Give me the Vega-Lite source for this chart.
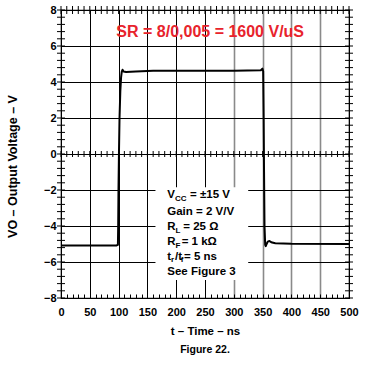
{
  "$schema": "https://vega.github.io/schema/vega-lite/v6.json",
  "width": 288,
  "height": 288,
  "autosize": "none",
  "padding": {"left": 61, "top": 10, "right": 23, "bottom": 69},
  "background": "white",
  "title": {"text": "Figure 22.", "orient": "bottom", "fontSize": 10.5, "fontWeight": "bold", "font": "Liberation Sans", "color": "black", "offset": 8},
  "config": {
    "font": "Liberation Sans",
    "view": {"stroke": "black", "strokeWidth": 1.2},
    "axis": {"labelFont": "Liberation Sans", "titleFont": "Liberation Sans", "labelColor": "black", "titleColor": "black", "domain": false}
  },
  "datasets": {
    "wave": [
      {"t": 0, "v": -5.08}, {"t": 96, "v": -5.08}, {"t": 98.8, "v": -5.05}, {"t": 99.3, "v": -4.0},
      {"t": 99.8, "v": -2.0}, {"t": 100.6, "v": 0}, {"t": 101.6, "v": 2.0}, {"t": 103, "v": 3.5},
      {"t": 104.3, "v": 4.25}, {"t": 105.5, "v": 4.58}, {"t": 106.8, "v": 4.68}, {"t": 108.5, "v": 4.58},
      {"t": 113, "v": 4.55}, {"t": 130, "v": 4.58}, {"t": 160, "v": 4.62}, {"t": 220, "v": 4.63},
      {"t": 300, "v": 4.63}, {"t": 347, "v": 4.65}, {"t": 349.7, "v": 4.74}, {"t": 351, "v": 4.6},
      {"t": 351.8, "v": 2.0}, {"t": 352.5, "v": -1.0}, {"t": 353.3, "v": -4.0}, {"t": 354.5, "v": -5.05},
      {"t": 355.5, "v": -5.12}, {"t": 357, "v": -5.0}, {"t": 359, "v": -4.87}, {"t": 362, "v": -4.83},
      {"t": 365, "v": -4.9}, {"t": 372, "v": -4.96}, {"t": 400, "v": -4.99}, {"t": 500, "v": -5.0}
    ],
    "xticks": [
      {"t": 0}, {"t": 10}, {"t": 20}, {"t": 30}, {"t": 40}, {"t": 50}, {"t": 60}, {"t": 70}, {"t": 80}, {"t": 90},
      {"t": 100}, {"t": 110}, {"t": 120}, {"t": 130}, {"t": 140}, {"t": 150}, {"t": 160}, {"t": 170}, {"t": 180}, {"t": 190},
      {"t": 200}, {"t": 210}, {"t": 220}, {"t": 230}, {"t": 240}, {"t": 250}, {"t": 260}, {"t": 270}, {"t": 280}, {"t": 290},
      {"t": 300}, {"t": 310}, {"t": 320}, {"t": 330}, {"t": 340}, {"t": 350}, {"t": 360}, {"t": 370}, {"t": 380}, {"t": 390},
      {"t": 400}, {"t": 410}, {"t": 420}, {"t": 430}, {"t": 440}, {"t": 450}, {"t": 460}, {"t": 470}, {"t": 480}, {"t": 490}, {"t": 500}
    ],
    "yticks": [
      {"v": -8}, {"v": -7.6}, {"v": -7.2}, {"v": -6.8}, {"v": -6.4}, {"v": -6}, {"v": -5.6}, {"v": -5.2}, {"v": -4.8}, {"v": -4.4},
      {"v": -4}, {"v": -3.6}, {"v": -3.2}, {"v": -2.8}, {"v": -2.4}, {"v": -2}, {"v": -1.6}, {"v": -1.2}, {"v": -0.8}, {"v": -0.4},
      {"v": 0}, {"v": 0.4}, {"v": 0.8}, {"v": 1.2}, {"v": 1.6}, {"v": 2}, {"v": 2.4}, {"v": 2.8}, {"v": 3.2}, {"v": 3.6},
      {"v": 4}, {"v": 4.4}, {"v": 4.8}, {"v": 5.2}, {"v": 5.6}, {"v": 6}, {"v": 6.4}, {"v": 6.8}, {"v": 7.2}, {"v": 7.6}, {"v": 8}
    ],
    "box": [{"x1": 164, "x2": 325, "y1": -7.0, "y2": -1.85}],
    "labels": [
      {"x": 184.5, "y": -2.28, "text": "V"},
      {"x": 224, "y": -2.28, "text": "= ±15 V"},
      {"x": 184.5, "y": -3.22, "text": "Gain = 2 V/V"},
      {"x": 184.5, "y": -4.06, "text": "R"},
      {"x": 212.3, "y": -4.06, "text": "= 25 Ω"},
      {"x": 184.5, "y": -4.89, "text": "R"},
      {"x": 209.5, "y": -4.89, "text": "= 1 kΩ"},
      {"x": 184.5, "y": -5.72, "text": "t"},
      {"x": 197.9, "y": -5.72, "text": "/t"},
      {"x": 213.5, "y": -5.72, "text": "= 5 ns"},
      {"x": 184.5, "y": -6.56, "text": "See Figure 3"}
    ],
    "subs": [
      {"x": 197.9, "y": -2.28, "text": "CC"},
      {"x": 199, "y": -4.06, "text": "L"},
      {"x": 199, "y": -4.89, "text": "F"},
      {"x": 191.1, "y": -5.72, "text": "r"},
      {"x": 207.8, "y": -5.72, "text": "f"}
    ],
    "note": [{"x": 259, "y": 6.78, "text": "SR = 8/0,005 = 1600 V/uS"}]
  },
  "resolve": {"axis": {"x": "independent", "y": "independent"}},
  "layer": [
    {
      "data": {"name": "box"},
      "mark": {"type": "rect", "fill": "white", "stroke": null},
      "encoding": {
        "x": {"field": "x1", "type": "quantitative", "scale": {"domain": [0, 500], "nice": false, "zero": false},
          "axis": {"orient": "bottom", "values": [0,10,20,30,40,50,60,70,80,90,100,110,120,130,140,150,160,170,180,190,200,210,220,230,240,250,260,270,280,290,300,310,320,330,340,350,360,370,380,390,400,410,420,430,440,450,460,470,480,490,500],
            "grid": false, "labels": false, "ticks": true, "tickSize": -4, "tickColor": "black", "tickWidth": 1, "title": null}},
        "x2": {"field": "x2"},
        "y": {"field": "y1", "type": "quantitative", "scale": {"domain": [-8, 8], "nice": false, "zero": false}, "axis": null},
        "y2": {"field": "y2"}
      }
    },
    {
      "data": {"name": "wave"},
      "mark": {"type": "line", "color": "black", "strokeWidth": 2, "strokeJoin": "round"},
      "encoding": {
        "x": {"field": "t", "type": "quantitative",
          "axis": {"orient": "bottom", "values": [0,50,100,150,200,250,300,350,400,450,500],
            "grid": true, "gridColor": {"condition": {"test": "datum.value >= 300 && datum.value < 500", "value": "#8a8a8a"}, "value": "black"},
            "gridWidth": {"condition": {"test": "datum.value >= 300 && datum.value < 500", "value": 1.6}, "value": 1},
            "gridOpacity": 1,
            "ticks": false, "labelFontSize": 11, "labelFontWeight": "bold", "labelPadding": 8, "labelFlush": false,
            "title": "t – Time – ns", "titleFontSize": 11.5, "titleFontWeight": "bold", "titlePadding": 8}},
        "y": {"field": "v", "type": "quantitative",
          "axis": {"orient": "left", "values": [-8,-6,-4,-2,0,2,4,6,8],
            "grid": true, "gridColor": "black", "gridWidth": 1, "gridOpacity": 1,
            "ticks": false, "labelFontSize": 11, "labelFontWeight": "bold", "labelPadding": 5,
            "title": "VO – Output Voltage – V", "titleFontSize": 12.5, "titleFontWeight": "bold", "titlePadding": 24, "titleY": 156}}
      }
    },
    {
      "data": {"name": "labels"},
      "mark": {"type": "text", "align": "left", "baseline": "middle", "fontSize": 11.5, "fontWeight": "bold", "font": "Liberation Sans", "color": "black"},
      "encoding": {
        "x": {"field": "x", "type": "quantitative", "axis": null},
        "y": {"field": "y", "type": "quantitative", "axis": null},
        "text": {"field": "text"}
      }
    },
    {
      "data": {"name": "subs"},
      "mark": {"type": "text", "align": "left", "baseline": "middle", "fontSize": 8, "dy": 3.5, "fontWeight": "bold", "font": "Liberation Sans", "color": "black"},
      "encoding": {
        "x": {"field": "x", "type": "quantitative", "axis": null},
        "y": {"field": "y", "type": "quantitative", "axis": null},
        "text": {"field": "text"}
      }
    },
    {
      "data": {"name": "note"},
      "mark": {"type": "text", "align": "center", "baseline": "middle", "fontSize": 16, "fontWeight": "bold", "font": "Liberation Sans", "color": "#e8232c"},
      "encoding": {
        "x": {"field": "x", "type": "quantitative", "axis": null},
        "y": {"field": "y", "type": "quantitative", "axis": null},
        "text": {"field": "text"}
      }
    },
    {
      "data": {"name": "xticks"},
      "mark": {"type": "tick", "orient": "vertical", "size": 8, "thickness": 1, "color": "black", "opacity": 1},
      "encoding": {"x": {"field": "t", "type": "quantitative", "axis": null}, "y": {"datum": 8, "type": "quantitative", "axis": null}}
    },
    {
      "data": {"name": "xticks"},
      "mark": {"type": "tick", "orient": "vertical", "size": 6, "thickness": 1, "color": "black", "opacity": 1},
      "encoding": {"x": {"field": "t", "type": "quantitative", "axis": null}, "y": {"datum": 0, "type": "quantitative", "axis": null}}
    },
    {
      "data": {"name": "yticks"},
      "mark": {"type": "tick", "orient": "horizontal", "size": 8, "thickness": 1, "color": "black", "opacity": 1},
      "encoding": {"y": {"field": "v", "type": "quantitative", "axis": null}, "x": {"datum": 0, "type": "quantitative", "axis": null}}
    },
    {
      "data": {"name": "yticks"},
      "mark": {"type": "tick", "orient": "horizontal", "size": 8, "thickness": 1, "color": "black", "opacity": 1},
      "encoding": {"y": {"field": "v", "type": "quantitative", "axis": null}, "x": {"datum": 500, "type": "quantitative", "axis": null}}
    }
  ]
}
